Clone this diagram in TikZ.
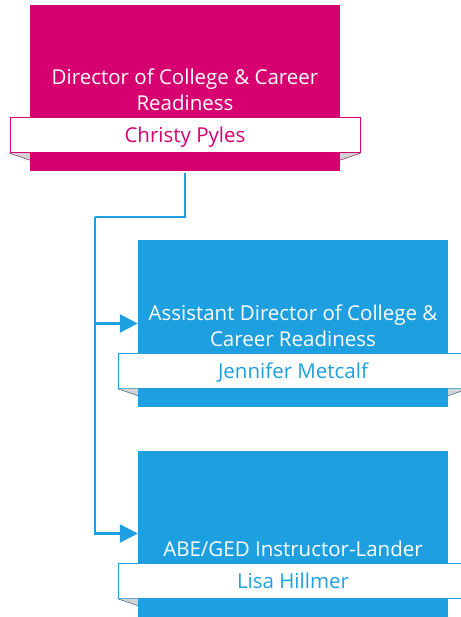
\documentclass[tikz,border=0pt]{standalone}
\usepackage{fontspec}
\setmainfont{Open Sans}
\usetikzlibrary{positioning,arrows.meta}
\definecolor{ccrpink}{RGB}{214,0,112}
\definecolor{ccrblue}{RGB}{30,160,224}
\begin{document}
\begin{tikzpicture}[x=1pt,y=-1pt]

    % let's define some key values
    \def\boxwidth{310}
    \def\boxheight{166}
    \def\bandwidth{350}
    \def\bandheight{35}
    \def\bandlift{18}
    \def\foldheight{7}
    \def\titlegap{6}

    % Styles
    \tikzstyle{rolebox}=[rectangle, inner sep=0pt,
        minimum width=\boxwidth pt, minimum height=\boxheight pt]
    \tikzstyle{nameband}=[rectangle, fill=white, line width=0.9pt, inner sep=0pt,
        minimum width=\bandwidth pt, minimum height=\bandheight pt,
        text height=19pt, text depth=4pt,
        font=\fontsize{20.5}{26}\selectfont]
    \tikzstyle{roletitle}=[inner sep=0pt, align=center, text=white,
        font=\fontsize{20.5}{26}\selectfont]
    \tikzstyle{foldfill}=[fill=gray!35]
    \tikzstyle{orgline}=[draw=ccrblue, line width=2.6pt]
    \tikzstyle{orgarrow}=[-{Triangle[length=18pt,width=18pt]}]

    \useasboundingbox (0,0) rectangle (460,617);

    % director
    \node[rolebox, fill=ccrpink] (dir) at (185,88) {};
    \node[nameband, draw=ccrpink, text=ccrpink, above=\bandlift pt of dir.south]
        (dirname) {Christy Pyles};
    \node[roletitle, above=\titlegap pt of dirname] (dirtitle)
        {Director of College \& Career\\Readiness};
    % folds
    \fill[foldfill] (dirname.south west) -- (dirname.south west -| dir.west)
        -- ([yshift=-\foldheight pt]dirname.south west -| dir.west) -- cycle;
    \draw[ccrpink!55!black] (dirname.south west)
        -- ([yshift=-\foldheight pt]dirname.south west -| dir.west);
    \fill[foldfill] (dirname.south east) -- (dirname.south east -| dir.east)
        -- ([yshift=-\foldheight pt]dirname.south east -| dir.east) -- cycle;
    \draw[ccrpink!55!black] (dirname.south east)
        -- ([yshift=-\foldheight pt]dirname.south east -| dir.east);

    % assistant director
    \node[rolebox, fill=ccrblue] (asst) at (293,323.5) {};
    \node[nameband, draw=ccrblue, text=ccrblue, above=\bandlift pt of asst.south]
        (asstname) {Jennifer Metcalf};
    \node[roletitle, above=\titlegap pt of asstname] (assttitle)
        {Assistant Director of College \&\\Career Readiness};
    % folds
    \fill[foldfill] (asstname.south west) -- (asstname.south west -| asst.west)
        -- ([yshift=-\foldheight pt]asstname.south west -| asst.west) -- cycle;
    \draw[ccrblue!55!black] (asstname.south west)
        -- ([yshift=-\foldheight pt]asstname.south west -| asst.west);
    \fill[foldfill] (asstname.south east) -- (asstname.south east -| asst.east)
        -- ([yshift=-\foldheight pt]asstname.south east -| asst.east) -- cycle;
    \draw[ccrblue!55!black] (asstname.south east)
        -- ([yshift=-\foldheight pt]asstname.south east -| asst.east);

    % instructor
    \node[rolebox, fill=ccrblue] (ged) at (293,533.5) {};
    \node[nameband, draw=ccrblue, text=ccrblue, above=\bandlift pt of ged.south]
        (gedname) {Lisa Hillmer};
    \node[roletitle, above=\titlegap pt of gedname] (gedtitle)
        {ABE/GED Instructor-Lander};
    % folds
    \fill[foldfill] (gedname.south west) -- (gedname.south west -| ged.west)
        -- ([yshift=-\foldheight pt]gedname.south west -| ged.west) -- cycle;
    \draw[ccrblue!55!black] (gedname.south west)
        -- ([yshift=-\foldheight pt]gedname.south west -| ged.west);

    % connectors
    \coordinate (spine) at (95,217);
    \draw[orgline, shorten <=2pt] (dir.south) |- (spine);
    \draw[orgline, orgarrow] (spine) |- (asst.west);
    \draw[orgline, orgarrow] (spine) |- (ged.west);

\end{tikzpicture}
\end{document}
